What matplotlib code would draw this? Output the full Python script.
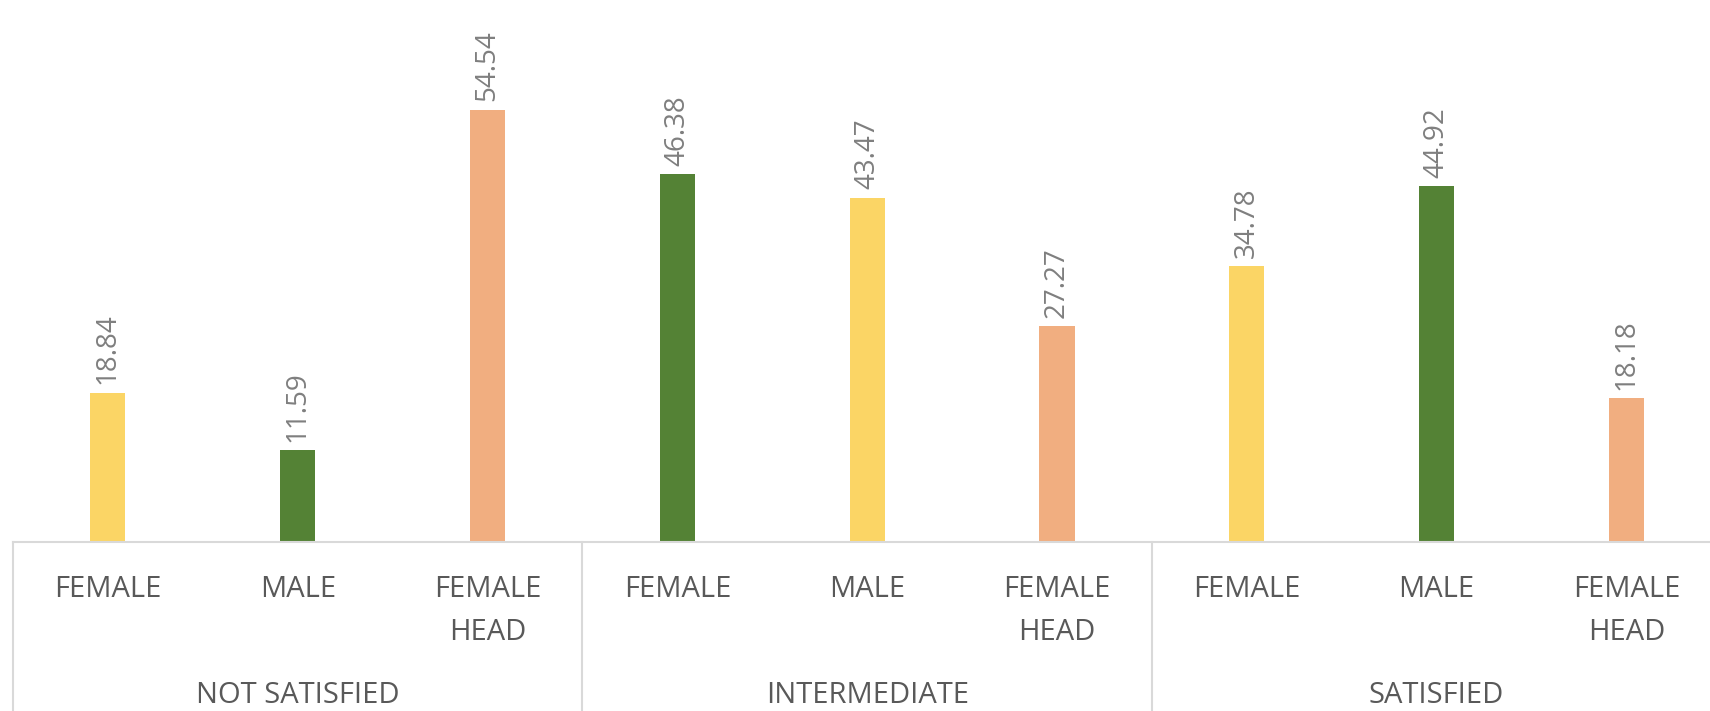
import matplotlib.pyplot as plt
from matplotlib import transforms

groups = ['NOT SATISFIED', 'INTERMEDIATE', 'SATISFIED']
categories = ['FEMALE', 'MALE', 'FEMALE\nHEAD',
              'FEMALE', 'MALE', 'FEMALE\nHEAD',
              'FEMALE', 'MALE', 'FEMALE\nHEAD']
values = [18.84, 11.59, 54.54,
          46.38, 43.47, 27.27,
          34.78, 44.92, 18.18]

yellow = '#fbd565'
green = '#548235'
orange = '#f1ae80'
bar_colors = [yellow, green, orange,
              green, yellow, orange,
              yellow, green, orange]

plt.rcParams['font.family'] = ['Open Sans', 'DejaVu Sans']

fig = plt.figure(figsize=(17.1, 7.11), dpi=100)
ax = fig.add_axes([0.0076, 0.2377, 0.999, 0.7623])

x = list(range(len(values)))
ax.bar(x, values, width=0.185, color=bar_colors, zorder=2)

for xi, v in zip(x, values):
    ax.annotate(f'{v:.2f}', (xi, v), xytext=(0, 6), textcoords='offset points',
                rotation=90, ha='center', va='bottom', fontsize=20, color='#7f7f7f')

ax.set_xlim(-0.5, len(values) - 0.5)
ax.set_ylim(0, 68.4)
ax.set_yticks([])
ax.set_xticks(x)
ax.set_xticklabels(categories, fontsize=21, color='#595959', linespacing=1.6)
ax.tick_params(axis='x', length=0, pad=24)

for s in ['top', 'left', 'right']:
    ax.spines[s].set_visible(False)
ax.spines['bottom'].set_color('#d9d9d9')
ax.spines['bottom'].set_linewidth(1.5)

# group frame lines below the axis and group names
trans = transforms.blended_transform_factory(ax.transData, ax.transAxes)
for b in [-0.5, 2.5, 5.5, 8.5]:
    ax.plot([b, b], [0, -0.33], transform=trans, color='#d9d9d9', lw=1.5,
            clip_on=False)
for i, g in enumerate(groups):
    ax.text(3 * i + 1, -0.283, g, transform=trans, ha='center', va='center',
            fontsize=21, color='#595959')

fig.savefig('out.png', dpi=100)
